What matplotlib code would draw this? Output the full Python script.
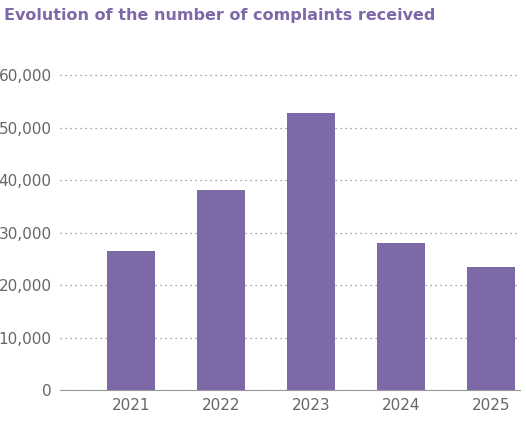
import matplotlib
matplotlib.use("Agg")
import matplotlib.pyplot as plt

years = ["2021", "2022", "2023", "2024", "2025"]
complaints = [26500, 38100, 52800, 28000, 23400]

fig = plt.figure(figsize=(5.26, 4.37), dpi=100)
ax = fig.add_axes([60/526, 1-390/437, 460/526, 315/437*1.03])
ax.bar(range(len(years)), complaints, width=0.53, color="#7d68a8", zorder=3)
ax.set_xlim(-0.79, 4.32)
ax.set_ylim(0, 61800)
ax.set_yticks(range(0, 60001, 10000))
ax.set_yticklabels([f"{v:,}" for v in range(0, 60001, 10000)])
ax.set_xticks(range(len(years)))
ax.set_xticklabels(years)
ax.grid(axis="y", linestyle=(0, (1, 3)), color="#888888", linewidth=0.9, zorder=0)
for s in ["top", "right", "left"]:
    ax.spines[s].set_visible(False)
ax.spines["bottom"].set_color("#999999")
ax.tick_params(axis="y", length=0, labelsize=11, colors="#666666", pad=6)
ax.tick_params(axis="x", length=0, labelsize=11, colors="#666666", pad=6)
fig.text(0.008, 0.965, "Evolution of the number of complaints received", color="#7d68a8",
         fontsize=11.5, fontweight="bold", va="center", ha="left")
fig.savefig("out.png", dpi=100)
